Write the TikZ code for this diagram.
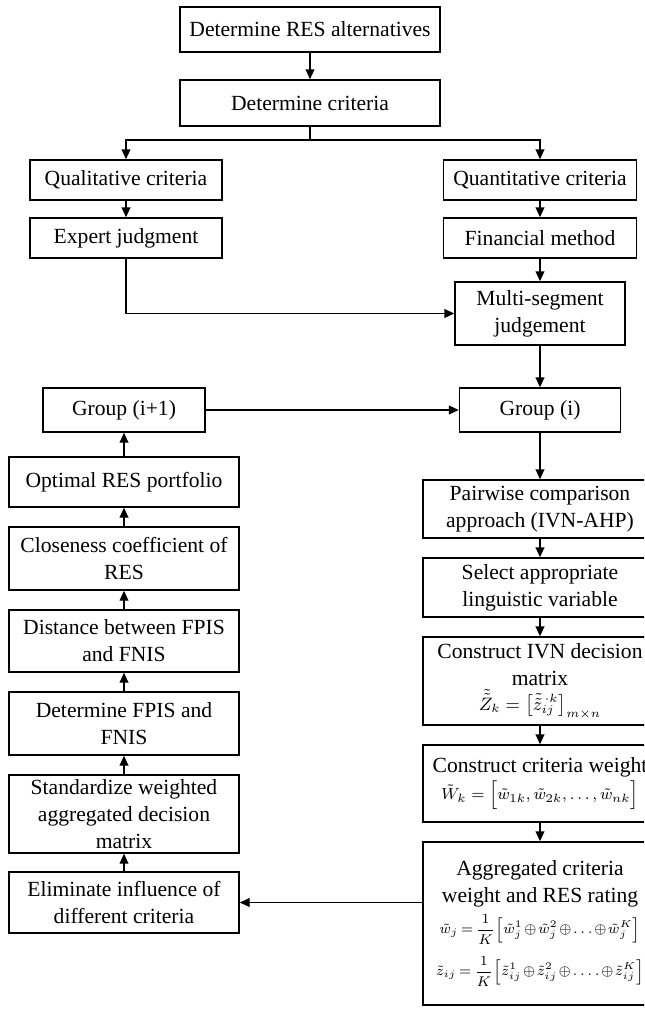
\documentclass[tikz,border=0pt]{standalone}
\usepackage{amsmath}
\usepackage{fontspec}
\setmainfont{Liberation Serif}
\usetikzlibrary{arrows.meta}

\begin{document}
\begin{tikzpicture}[
      x=0.5pt, y=-0.5pt,
      mybox/.style={
         rectangle,
         draw=black,
         line width=0.7pt,
         inner sep=0pt,
         align=center,
         font=\fontsize{10.8}{13.5}\selectfont},
      myarrow/.style={-{Triangle[length=5pt,width=4.4pt]}, line width=0.7pt}
      ]
      \useasboundingbox (0,0) rectangle (644,1013);
      \clip (0,0) rectangle (644,1013);
      % top part
      \node[mybox, minimum width=130pt, minimum height=22.5pt] (res) at (310,29.5) {Determine RES alternatives};
      \node[mybox, minimum width=130pt, minimum height=23pt] (crit) at (310,103) {Determine criteria};
      \coordinate (split) at (310,140);
      \node[mybox, minimum width=96pt, minimum height=20pt] (qual) at (126,180) {Qualitative criteria};
      \node[mybox, minimum width=96.5pt, minimum height=20pt] (quant) at (540,180) {Quantitative criteria};
      \node[mybox, minimum width=96pt, minimum height=20pt] (expert) at (126,238) {Expert judgment};
      \node[mybox, minimum width=96.5pt, minimum height=20pt] (fin) at (540,238) {Financial method};
      \node[mybox, minimum width=85pt, minimum height=31.5pt] (multi) at (540,313.5) {Multi-segment\\judgement};
      \node[mybox, minimum width=81pt, minimum height=22pt] (grpn) at (124,410) {Group (i+1)};
      \node[mybox, minimum width=80.5pt, minimum height=22pt] (grp) at (540,410) {Group (i)};
      % left column
      \node[mybox, minimum width=115pt, minimum height=25pt] (opt) at (124,482) {Optimal RES portfolio};
      \node[mybox, minimum width=115pt, minimum height=31.5pt] (close) at (124,558.5) {Closeness coefficient of\\RES};
      \node[mybox, minimum width=115pt, minimum height=31pt] (dist) at (124,641) {Distance between FPIS\\and FNIS};
      \node[mybox, minimum width=115pt, minimum height=31.5pt] (fpis) at (124,723.5) {Determine FPIS and\\FNIS};
      \node[mybox, minimum width=115pt, minimum height=39pt] (stand) at (124,814) {Standardize weighted\\aggregated decision\\matrix};
      \node[mybox, minimum width=115pt, minimum height=30.5pt] (elim) at (124,902.5) {Eliminate influence of\\different criteria};
      % right column
      \node[mybox, minimum width=117pt, minimum height=29pt] (pair) at (540,509) {Pairwise comparison\\approach (IVN-AHP)};
      \node[mybox, minimum width=117pt, minimum height=29.5pt] (sel) at (540,587.5) {Select appropriate\\linguistic variable};
      \node[mybox, minimum width=117pt, minimum height=44pt] (ivn) at (540,681) {Construct IVN decision\\matrix\\[-1pt]
         {\small$\tilde{\tilde{Z}}_k=\bigl[\tilde{\tilde{z}}_{ij}^{\,\cdot k}\bigr]_{m\times n}$}};
      \node[mybox, minimum width=117pt, minimum height=38.5pt] (wgt) at (540,783.5) {Construct criteria weight\\
         {\footnotesize$\tilde{W}_k=\Bigl[\tilde{w}_{1k},\tilde{w}_{2k},\ldots,\tilde{w}_{nk}\Bigr]$}};
      \node[mybox, minimum width=117pt, minimum height=81.5pt] (agg) at (540,923.5) {Aggregated criteria\\weight and RES rating\\[2pt]
         {\scriptsize\medmuskip=1.5mu\thickmuskip=3mu$\tilde{w}_j=\dfrac{1}{K}\Bigl[\tilde{w}_j^1\oplus\tilde{w}_j^2\oplus\ldots\oplus\tilde{w}_j^K\Bigr]$}\\[5pt]
         {\scriptsize\medmuskip=1.5mu\thickmuskip=3mu$\tilde{z}_{ij}=\dfrac{1}{K}\Bigl[\tilde{z}_{ij}^1\oplus\tilde{z}_{ij}^2\oplus\ldots.\oplus\tilde{z}_{ij}^K\Bigr]$}};
      % connectors
      \draw[line width=0.7pt] (crit.south) -- (split);
      \draw[myarrow] (split) -| (qual.north);
      \draw[myarrow] (split) -| (quant.north);
      \draw[myarrow] (expert.south) |- (multi.west);
      \draw[myarrow] (grpn.east) -- (grp.west);
      \draw[myarrow] (agg.west |- elim.east) -- (elim.east);
      \foreach \i/\j in {
        res/crit, qual/expert, quant/fin, fin/multi, multi/grp,
        grp/pair, pair/sel, sel/ivn, ivn/wgt, wgt/agg,
        elim/stand, stand/fpis, fpis/dist, dist/close, close/opt, opt/grpn}
         \draw[myarrow] (\i) -- (\j);
\end{tikzpicture}
\end{document}
